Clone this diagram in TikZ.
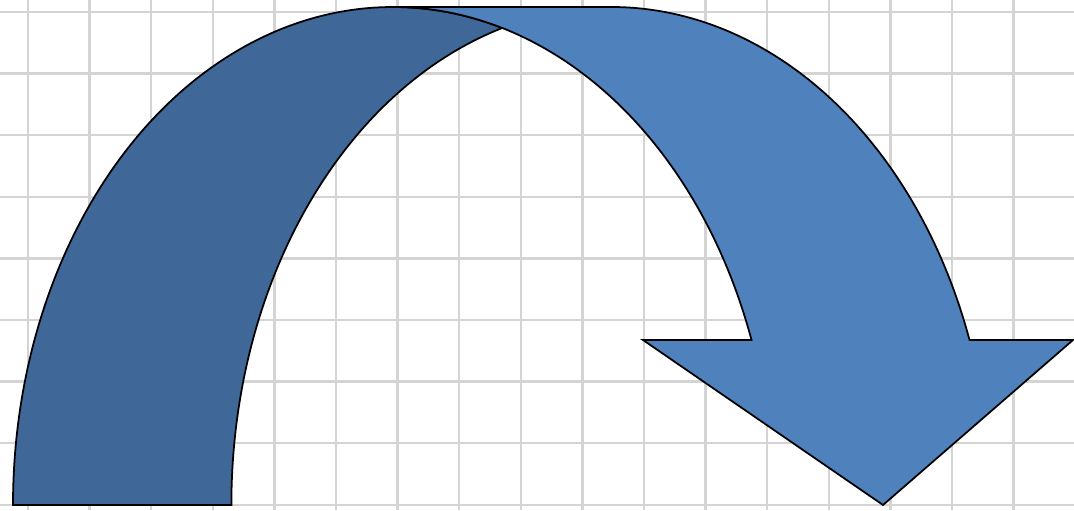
\documentclass[tikz,border=0pt]{standalone}
\usepackage{tikz}
\definecolor{arrowblue}{RGB}{79,129,189}
\definecolor{arrowdark}{RGB}{63,103,151}
\definecolor{tileline}{RGB}{212,212,212}

\begin{document}
\begin{tikzpicture}[x=0.02cm,y=0.02cm]
        \def\rx{380}
        \def\ry{498}
        \def\base{5}
        \useasboundingbox (0,0) rectangle (1074,510);
        % Draw the tiles
        \fill[white] (0,0) rectangle (1074,510);
        \foreach \i in {0,...,16}
          \draw[tileline, line width=1.4pt] (28+61.6*\i,0) -- (28+61.6*\i,510);
        \foreach \j in {0,...,8}
          \draw[tileline, line width=1.4pt] (0,5.2+61.6*\j) -- (1074,5.2+61.6*\j);
        % Draw the back band
        \filldraw[fill=arrowdark, draw=black, line width=1pt] (13,\base)
          arc[start angle=180, end angle=73.3, x radius=\rx, y radius=\ry]
          arc[start angle=106.7, end angle=180, x radius=\rx, y radius=\ry] -- cycle;
        % Draw the front band and the head
        \filldraw[fill=arrowblue, draw=black, line width=1pt] (393,503) -- (611,503)
          arc[start angle=90, end angle=19.35, x radius=\rx, y radius=\ry]
          -- (1073,170) -- (883,\base) -- (643,170) -- (751.5,170)
          arc[start angle=19.35, end angle=90, x radius=\rx, y radius=\ry] -- cycle;
\end{tikzpicture}
\end{document}
